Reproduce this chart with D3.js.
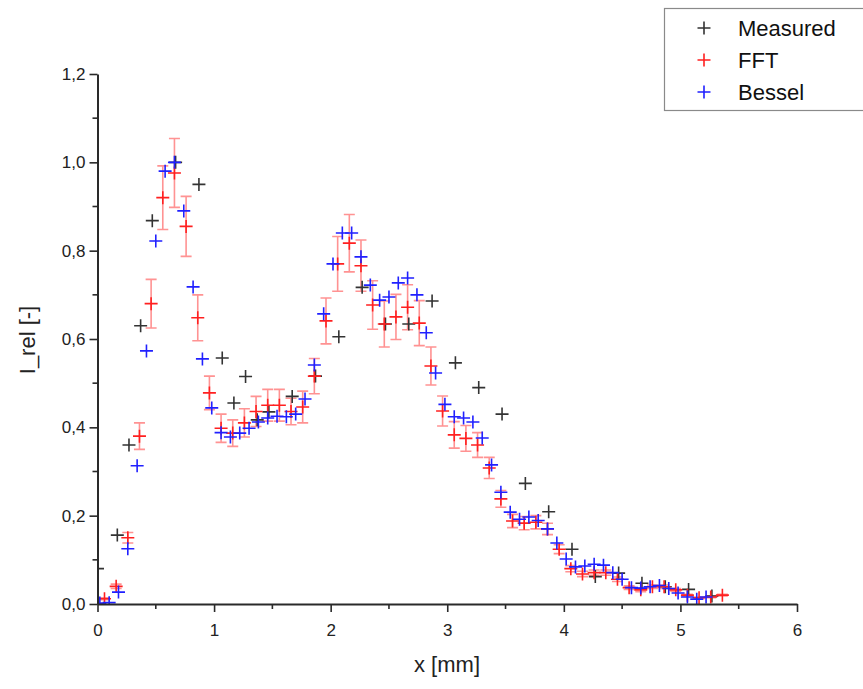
<!DOCTYPE html>
<html>
<head>
<meta charset="utf-8">
<script src="https://cdn.jsdelivr.net/npm/d3@7"></script>
<style>
  body { margin: 0; background: #fff; }
  svg { display: block; }
</style>
</head>
<body>
<div id="chart"></div>
<script>
// Measured data
const measuredX = [0.0, 0.17, 0.27, 0.37, 0.47, 0.67, 0.87, 1.07, 1.17, 1.27, 1.37, 1.47, 1.67, 1.87, 2.07, 2.27, 2.47, 2.67, 2.87, 3.07, 3.27, 3.47, 3.67, 3.87, 4.07, 4.27, 4.47, 4.67, 4.87, 5.07, 5.27];
const measuredY = [0.08, 0.156, 0.36, 0.63, 0.868, 1.0, 0.95, 0.557, 0.455, 0.515, 0.417, 0.435, 0.47, 0.516, 0.605, 0.717, 0.634, 0.634, 0.686, 0.546, 0.49, 0.43, 0.273, 0.209, 0.124, 0.062, 0.07, 0.047, 0.039, 0.033, 0.018];

// FFT data with error
const fftX = [0.06, 0.16, 0.26, 0.36, 0.46, 0.56, 0.66, 0.76, 0.86, 0.96, 1.06, 1.16, 1.26, 1.36, 1.46, 1.56, 1.66, 1.76, 1.86, 1.96, 2.06, 2.16, 2.26, 2.36, 2.46, 2.56, 2.66, 2.76, 2.86, 2.96, 3.06, 3.16, 3.26, 3.36, 3.46, 3.56, 3.66, 3.76, 3.86, 3.96, 4.06, 4.16, 4.26, 4.36, 4.46, 4.56, 4.66, 4.76, 4.86, 4.96, 5.06, 5.16, 5.26, 5.36];
const fftY = [0.012, 0.04, 0.15, 0.38, 0.68, 0.92, 0.976, 0.855, 0.648, 0.478, 0.398, 0.387, 0.41, 0.436, 0.45, 0.45, 0.436, 0.446, 0.516, 0.641, 0.77, 0.817, 0.766, 0.677, 0.634, 0.65, 0.672, 0.636, 0.539, 0.437, 0.383, 0.375, 0.36, 0.308, 0.238, 0.188, 0.183, 0.185, 0.17, 0.124, 0.08, 0.068, 0.071, 0.071, 0.056, 0.037, 0.032, 0.039, 0.039, 0.032, 0.02, 0.014, 0.016, 0.02];
const fftErr = [0.002, 0.005, 0.012, 0.03, 0.055, 0.072, 0.078, 0.068, 0.052, 0.038, 0.032, 0.03, 0.032, 0.034, 0.036, 0.036, 0.03, 0.036, 0.04, 0.052, 0.062, 0.065, 0.058, 0.055, 0.052, 0.051, 0.051, 0.051, 0.043, 0.034, 0.03, 0.029, 0.028, 0.024, 0.019, 0.015, 0.015, 0.015, 0.013, 0.01, 0.007, 0.006, 0.006, 0.006, 0.005, 0.004, 0.004, 0.004, 0.004, 0.003, 0.002, 0.002, 0.002, 0.002];

// Bessel data
const besselX = [0.02, 0.10, 0.18, 0.26, 0.34, 0.42, 0.50, 0.58, 0.66, 0.74, 0.82, 0.90, 0.98, 1.06, 1.14, 1.22, 1.30, 1.38, 1.46, 1.54, 1.62, 1.70, 1.78, 1.86, 1.94, 2.02, 2.10, 2.18, 2.26, 2.34, 2.42, 2.50, 2.58, 2.66, 2.74, 2.82, 2.90, 2.98, 3.06, 3.14, 3.22, 3.30, 3.38, 3.46, 3.54, 3.62, 3.70, 3.78, 3.86, 3.94, 4.02, 4.10, 4.18, 4.26, 4.34, 4.42, 4.50, 4.58, 4.66, 4.74, 4.82, 4.90, 4.98, 5.06, 5.14, 5.22];
const besselY = [0.002, 0.003, 0.027, 0.125, 0.313, 0.573, 0.822, 0.98, 1.0, 0.89, 0.718, 0.555, 0.444, 0.388, 0.378, 0.387, 0.398, 0.412, 0.421, 0.425, 0.424, 0.43, 0.464, 0.541, 0.657, 0.77, 0.84, 0.84, 0.786, 0.722, 0.688, 0.695, 0.727, 0.738, 0.7, 0.614, 0.523, 0.452, 0.424, 0.421, 0.412, 0.376, 0.315, 0.253, 0.208, 0.192, 0.197, 0.189, 0.17, 0.138, 0.102, 0.084, 0.086, 0.09, 0.088, 0.071, 0.056, 0.037, 0.036, 0.039, 0.042, 0.035, 0.025, 0.016, 0.011, 0.016];

const xTicks = [0, 1, 2, 3, 4, 5, 6];
const yTicks = [0, 0.2, 0.4, 0.6, 0.8, 1.0, 1.2];

const legendItems = [
    { label: "Measured", color: "#333333" },
    { label: "FFT", color: "#ff2020" },
    { label: "Bessel", color: "#2020ff" }
];

const width = 863, height = 689;
const font = "'Liberation Sans', Arial, sans-serif";

const svg = d3.select("#chart").append("svg")
    .attr("width", width).attr("height", height)
    .attr("viewBox", `0 0 ${width} ${height}`);

svg.append("rect").attr("width", width).attr("height", height).attr("fill", "#fff");

const x = d3.scaleLinear().domain([0, 6]).range([97.5, 797]);
const y = d3.scaleLinear().domain([0, 1.2]).range([604, 74]);

// clip to plot area
svg.append("clipPath").attr("id", "plotclip")
    .append("rect").attr("x", x(0)).attr("y", y(1.2) - 10)
    .attr("width", x(6) - x(0) + 10).attr("height", y(0) - y(1.2) + 10);

const plot = svg.append("g").attr("clip-path", "url(#plotclip)");

const plus = "M-6.5,0H6.5M0,-6.5V6.5";
const fmt = v => d3.format(".1f")(v).replace(".", ",");

// error bars of FFT
const fftData = fftX.map((d, i) => ({ x: d, y: fftY[i], e: fftErr[i] }));
const eb = plot.append("g").attr("stroke", "#ff8080").attr("stroke-width", 1.6).attr("fill", "none").attr("opacity", 0.85);
eb.selectAll("path").data(fftData).enter().append("path")
    .attr("d", d => {
        const cx = x(d.x), y1 = y(d.y + d.e), y2 = y(d.y - d.e);
        return `M${cx},${y1}V${y2}M${cx - 5.5},${y1}H${cx + 5.5}M${cx - 5.5},${y2}H${cx + 5.5}`;
    });

function drawSeries(xs, ys, color) {
    plot.append("g").attr("stroke", color).attr("stroke-width", 1.6).attr("fill", "none")
        .selectAll("path").data(xs.map((d, i) => [d, ys[i]])).enter().append("path")
        .attr("transform", d => `translate(${x(d[0])},${y(d[1])})`)
        .attr("d", plus);
}

drawSeries(measuredX, measuredY, legendItems[0].color);
drawSeries(fftX, fftY, legendItems[1].color);
drawSeries(besselX, besselY, legendItems[2].color);

// axes
const axisColor = "#2a2a2a";
const xAxis = svg.append("g").attr("transform", `translate(0,${y(0)})`)
    .call(d3.axisBottom(x).tickValues(xTicks).tickSize(8).tickSizeOuter(0).tickFormat(d3.format("d")));
xAxis.append("g").selectAll("line").data([0.5, 1.5, 2.5, 3.5, 4.5, 5.5]).enter().append("line")
    .attr("x1", d => x(d)).attr("x2", d => x(d)).attr("y1", 0).attr("y2", 5);

const yAxis = svg.append("g").attr("transform", `translate(${x(0)},0)`)
    .call(d3.axisLeft(y).tickValues(yTicks).tickSize(8).tickSizeOuter(0).tickFormat(fmt));
yAxis.append("g").selectAll("line").data([0.1, 0.3, 0.5, 0.7, 0.9, 1.1]).enter().append("line")
    .attr("x1", 0).attr("x2", -5).attr("y1", d => y(d)).attr("y2", d => y(d));

[xAxis, yAxis].forEach(a => {
    a.select(".domain").attr("stroke", axisColor).attr("stroke-width", 2);
    a.selectAll("line").attr("stroke", axisColor).attr("stroke-width", 1.6);
    a.selectAll("text").attr("fill", "#222").style("font-family", font).style("font-size", "17px");
});
xAxis.selectAll(".tick text").attr("dy", "1.25em");
yAxis.selectAll(".tick text").attr("x", -12);

// axis titles
svg.append("text").attr("x", 447).attr("y", 672).attr("text-anchor", "middle")
    .style("font-family", font).style("font-size", "22px").attr("fill", "#222")
    .text("x [mm]");
svg.append("text").attr("transform", "translate(35,340) rotate(-90)").attr("text-anchor", "middle")
    .style("font-family", font).style("font-size", "22px").attr("fill", "#222")
    .text("I_rel [-]");

// legend
const legend = svg.append("g");
legend.append("rect").attr("x", 664.5).attr("y", 8.5).attr("width", 210).attr("height", 102)
    .attr("fill", "#fff").attr("stroke", "#8a8a8a").attr("stroke-width", 1.2);
legendItems.forEach((item, i) => {
    const ly = 28 + i * 32;
    legend.append("path").attr("transform", `translate(704,${ly})`).attr("d", plus)
        .attr("stroke", item.color).attr("stroke-width", 1.6).attr("fill", "none");
    legend.append("text").attr("x", 738).attr("y", ly + 8)
        .style("font-family", font).style("font-size", "22px").attr("fill", "#111")
        .text(item.label);
});
</script>
</body>
</html>
